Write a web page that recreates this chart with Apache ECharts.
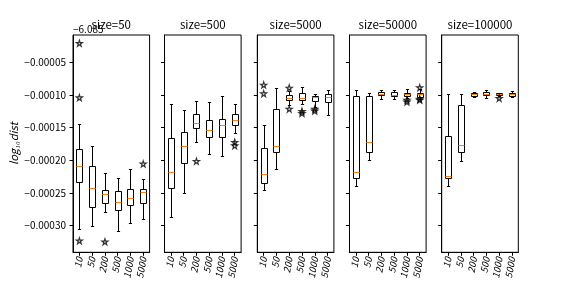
<!DOCTYPE html>
<html><head><meta charset="utf-8">
<script src="https://cdn.jsdelivr.net/npm/echarts@6/dist/echarts.min.js"></script>
<style>html,body{margin:0;padding:0;background:#fff}#c{width:576px;height:288px}</style>
</head><body><div id="c"></div>
<script>
// ---- data (values shown relative to offset -6.085) ----
const categories = ['10', '50', '200', '500', '1000', '5000'];
const panelTitles = ['size=50', 'size=500', 'size=5000', 'size=50000', 'size=100000'];
const yTicks = [-0.00030, -0.00025, -0.00020, -0.00015, -0.00010, -0.00005];
const offsetText = '\u22126.085';
// each row: [whiskerLow, q1, median, q3, whiskerHigh]
const box50 = [
  [-0.0003055, -0.0002336, -0.0002087, -0.0001831, -0.0001444],
  [-0.0003000, -0.0002719, -0.0002428, -0.0002091, -0.0001781],
  [-0.0002795, -0.0002657, -0.0002520, -0.0002449, -0.0002198],
  [-0.0003086, -0.0002764, -0.0002642, -0.0002465, -0.0002275],
  [-0.0002963, -0.0002688, -0.0002572, -0.0002443, -0.0002128],
  [-0.0002902, -0.0002657, -0.0002489, -0.0002443, -0.0002290]
];
const box500 = [
  [-0.0002872, -0.0002428, -0.0002174, -0.0001663, -0.0001143],
  [-0.0002504, -0.0002036, -0.0001785, -0.0001571, -0.0001230],
  [-0.0001724, -0.0001510, -0.0001433, -0.0001296, -0.0001092],
  [-0.0001908, -0.0001643, -0.0001536, -0.0001383, -0.0001112],
  [-0.0001938, -0.0001648, -0.0001464, -0.0001368, -0.0001020],
  [-0.0001586, -0.0001464, -0.0001387, -0.0001296, -0.0001133]
];
const box5000 = [
  [-0.0002458, -0.0002347, -0.0002214, -0.0001816, -0.0001459],
  [-0.0002137, -0.0001868, -0.0001776, -0.0001215, -0.0000898],
  [-0.0001158, -0.0001077, -0.0001042, -0.0001005, -0.0000935],
  [-0.0001143, -0.0001070, -0.0001050, -0.0000974, -0.0000883],
  [-0.0001179, -0.0001097, -0.0001030, -0.0001015, -0.0000980],
  [-0.0001311, -0.0001112, -0.0001036, -0.0000980, -0.0000924]
];
const box50000 = [
  [-0.0002393, -0.0002275, -0.0002183, -0.0001020, -0.0000924],
  [-0.0002000, -0.0001877, -0.0001724, -0.0001020, -0.0000974],
  [-0.0001062, -0.0001005, -0.0000980, -0.0000959, -0.0000928],
  [-0.0001066, -0.0001016, -0.0000996, -0.0000959, -0.0000928],
  [-0.0001046, -0.0001011, -0.0000990, -0.0000970, -0.0000913],
  [-0.0001057, -0.0001026, -0.0000990, -0.0000970, -0.0000903]
];
const box100000 = [
  [-0.0002393, -0.0002275, -0.0002244, -0.0001632, -0.0000980],
  [-0.0002015, -0.0001877, -0.0001770, -0.0001158, -0.0000980],
  [-0.0001036, -0.0001011, -0.0000990, -0.0000974, -0.0000959],
  [-0.0001051, -0.0001005, -0.0000980, -0.0000959, -0.0000928],
  [-0.0001020, -0.0001005, -0.0000990, -0.0000974, -0.0000965],
  [-0.0001026, -0.0001011, -0.0000990, -0.0000970, -0.0000944]
];
// outliers: [categoryIndex, value]
const out50 = [[0, -0.0000209], [0, -0.0001042], [0, -0.0003234], [2, -0.0003249], [5, -0.0002056]];
const out500 = [[2, -0.0002015], [5, -0.0001724], [5, -0.0001776]];
const out5000 = [[0, -0.0000847], [0, -0.0000980], [2, -0.0000893], [2, -0.0001215],
                 [3, -0.0001250], [3, -0.0001280], [4, -0.0001215], [4, -0.0001245]];
const out50000 = [[4, -0.0001077], [4, -0.0001107], [5, -0.0000888], [5, -0.0001062], [5, -0.0001077]];
const out100000 = [[4, -0.0001051]];

const boxes = [box50, box500, box5000, box50000, box100000];
const outs = [out50, out500, out5000, out50000, out100000];

// ---- layout ----
const gridLefts = [73, 164.5, 257.3, 349.5, 441.7];
const gridWidth = 76.6;
const gridTop = 35, gridHeight = 217.3;
const yMin = -0.000341, yMax = -0.0000082;
const FONT = 'Noto Sans CJK SC';
const STAR = 'path://M50,2 L61,37 L98,37 L68,59 L79,94 L50,72 L21,94 L32,59 L2,37 L39,37 Z';

function renderBox(params, api) {
  const x = api.value(0);
  const lo = api.coord([x, api.value(1)]);
  const q1 = api.coord([x, api.value(2)]);
  const md = api.coord([x, api.value(3)]);
  const q3 = api.coord([x, api.value(4)]);
  const hi = api.coord([x, api.value(5)]);
  const band = api.size([1, 0])[0];
  const bw = band * 0.5, cw = bw * 0.5;
  const cx = Math.round(lo[0]) + 0.5;
  const r = v => Math.round(v) + 0.5;
  const ls = { stroke: '#000', lineWidth: 1 };
  const bx = Math.round(cx - bw / 2) + 0.5, bwr = Math.round(bw);
  return {
    type: 'group',
    children: [
      { type: 'line', shape: { x1: cx, y1: r(hi[1]), x2: cx, y2: r(q3[1]) }, style: ls },
      { type: 'line', shape: { x1: cx, y1: r(q1[1]), x2: cx, y2: r(lo[1]) }, style: ls },
      { type: 'line', shape: { x1: cx - cw / 2, y1: r(hi[1]), x2: cx + cw / 2, y2: r(hi[1]) }, style: ls },
      { type: 'line', shape: { x1: cx - cw / 2, y1: r(lo[1]), x2: cx + cw / 2, y2: r(lo[1]) }, style: ls },
      { type: 'rect', shape: { x: bx, y: r(q3[1]), width: bwr, height: r(q1[1]) - r(q3[1]) },
        style: { fill: 'none', stroke: '#000', lineWidth: 1 } },
      { type: 'line', shape: { x1: bx, y1: r(md[1]), x2: bx + bwr, y2: r(md[1]) },
        style: { stroke: '#ff7f0e', lineWidth: 1 } }
    ]
  };
}

const grids = [], xAxes = [], yAxes = [], series = [], graphics = [];
for (let i = 0; i < 5; i++) {
  grids.push({ left: gridLefts[i], width: gridWidth, top: gridTop, height: gridHeight,
    show: true, borderColor: '#000', borderWidth: 1, backgroundColor: 'transparent' });
  xAxes.push({
    type: 'category', gridIndex: i, data: categories,
    axisLine: { show: true, lineStyle: { color: '#000', width: 1 } },
    axisTick: { show: true, alignWithLabel: true, length: 3.5, lineStyle: { color: '#000' } },
    axisLabel: { rotate: 80, fontStyle: 'italic', fontSize: 9.5, color: '#000', fontFamily: FONT, margin: 5, interval: 0 },
    splitLine: { show: false }
  });
  yAxes.push({
    type: 'value', gridIndex: i, min: yMin, max: yMax, scale: true,
    axisLine: { show: true, lineStyle: { color: '#000', width: 1 } },
    axisTick: { show: true, length: 3.5, lineStyle: { color: '#000' }, customValues: yTicks },
    axisLabel: { show: i === 0, fontSize: 10, color: '#000', fontFamily: FONT, margin: 7,
      customValues: yTicks,
      formatter: v => (v < 0 ? '\u2212' : '') + Math.abs(v).toFixed(5) },
    splitLine: { show: false },
    name: i === 0 ? 'log\u2081\u2080dist' : '',
    nameLocation: 'middle', nameGap: 54,
    nameTextStyle: { fontStyle: 'italic', fontSize: 11, color: '#000', fontFamily: FONT }
  });
  series.push({
    type: 'custom', xAxisIndex: i, yAxisIndex: i,
    renderItem: renderBox,
    encode: { x: 0, y: [1, 2, 3, 4, 5] },
    data: boxes[i].map((b, k) => [k].concat(b)),
    z: 2
  });
  series.push({
    type: 'scatter', xAxisIndex: i, yAxisIndex: i,
    data: outs[i], symbol: STAR, symbolSize: 6,
    itemStyle: { color: 'rgba(0,0,0,0)', borderColor: '#000', borderWidth: 1.2 },
    z: 3
  });
  graphics.push({ type: 'text', x: gridLefts[i] + gridWidth / 2, y: 25,
    style: { text: panelTitles[i], align: 'center', verticalAlign: 'middle', fontSize: 11.5, fill: '#000', fontFamily: FONT } });
}
graphics.push({ type: 'text', x: 73, y: 29,
  style: { text: offsetText, align: 'left', verticalAlign: 'middle', fontSize: 10, fill: '#000', fontFamily: FONT } });

const chart = echarts.init(document.getElementById('c'), null, { renderer: 'canvas' });
chart.setOption({
  animation: false,
  backgroundColor: '#fff',
  grid: grids, xAxis: xAxes, yAxis: yAxes, series: series, graphic: graphics
});
</script></body></html>
